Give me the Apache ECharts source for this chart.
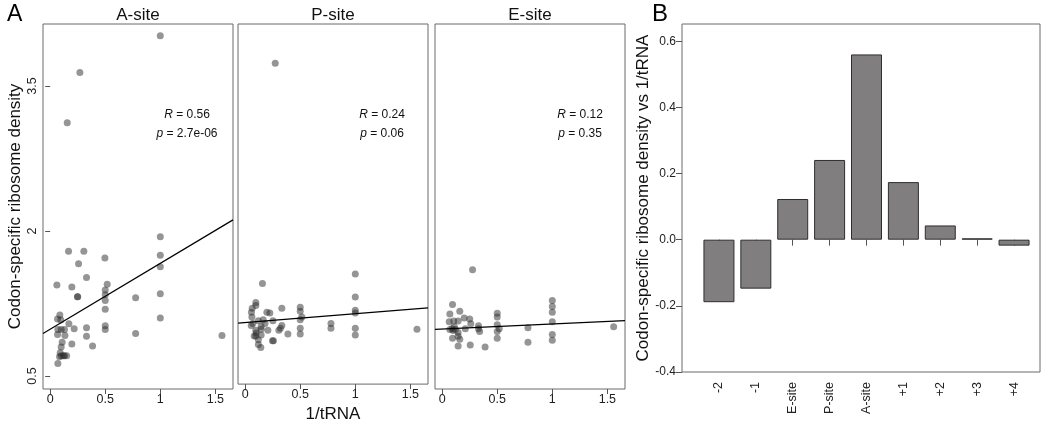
<!DOCTYPE html>
<html>
<head>
<meta charset="utf-8">
<script src="https://cdn.jsdelivr.net/npm/echarts@6/dist/echarts.min.js"></script>
<style>
html,body{margin:0;padding:0;background:#fff;}
#chart{width:1050px;height:428px;}
</style>
</head>
<body>
<div id="chart"></div>
<script>
// ---------- DATA ----------
const panelTitles = ['A-site', 'P-site', 'E-site'];
const xTicks = [0, 0.5, 1, 1.5];
const yTicks = [0.5, 2, 3.5];

const aSitePoints = [
  [1.0,4.02],[0.27,3.64],[0.155,3.12],
  [1.0,1.94],[1.0,1.75],[1.0,1.63],[1.0,1.35],[1.0,1.10],
  [0.167,1.79],[0.306,1.79],[0.497,1.72],[0.258,1.66],
  [0.33,1.52],[0.518,1.45],[0.061,1.44],[0.197,1.42],
  [0.5,1.39],[0.5,1.34],[0.776,1.31],[0.248,1.32],[0.25,1.32],
  [0.5,1.28],[0.5,1.19],[0.088,1.13],[0.067,1.09],[0.097,1.08],
  [0.17,1.04],[0.5,1.02],[0.07,0.98],[0.1,0.98],[0.13,0.98],
  [0.218,0.99],[0.33,1.0],[0.5,0.98],[0.067,0.93],[0.134,0.92],
  [0.33,0.91],[0.776,0.94],[1.56,0.92],[0.109,0.85],[0.197,0.83],
  [0.385,0.81],[0.1,0.80],[0.091,0.74],[0.1,0.71],[0.12,0.71],
  [0.13,0.71],[0.15,0.71],[0.085,0.70],[0.07,0.63]
];
const pSitePoints = [
  [0.273,3.73],[1.0,1.52],[0.157,1.42],[1.0,1.28],[0.097,1.22],[0.097,1.19],
  [0.064,1.16],[0.057,1.12],[0.333,1.16],[0.5,1.17],[0.5,1.13],[0.197,1.12],
  [0.224,1.11],[1.0,1.14],[1.0,1.11],[0.061,1.07],[0.515,1.07],[0.5,1.04],
  [0.164,1.04],[0.12,1.03],[0.252,1.03],[0.779,1.0],[0.5,0.95],[0.779,0.95],
  [1.0,0.95],[1.56,0.94],[0.333,0.98],[0.32,0.95],[0.145,0.94],[0.206,0.93],
  [0.097,0.93],[0.306,0.93],[0.082,0.87],[0.097,0.87],[0.145,0.88],[0.388,0.89],
  [0.5,0.89],[1.0,0.88],[0.12,0.83],[0.12,0.78],[0.142,0.75],[0.248,0.82],
  [0.257,0.82],[0.055,0.98],[0.07,1.0],[0.18,1.0],[0.145,0.97],[0.1,0.9]
];
const eSitePoints = [
  [0.276,1.60],[0.094,1.24],[1.0,1.28],[1.0,1.22],[1.0,1.16],[0.07,1.14],
  [0.16,1.17],[0.5,1.15],[0.5,1.11],[0.2,1.10],[0.25,1.09],[0.064,1.06],
  [1.0,1.06],[0.26,1.04],[0.105,1.07],[0.145,1.07],[0.33,1.02],[0.5,1.03],
  [0.779,1.0],[1.557,1.01],[0.518,0.99],[0.21,0.99],[0.07,0.98],[0.1,0.97],
  [0.12,0.98],[0.09,0.99],[0.34,0.96],[0.5,0.96],[0.145,0.95],[0.094,0.89],
  [0.16,0.88],[0.145,0.91],[0.5,0.89],[1.0,0.93],[1.0,0.87],[0.779,0.85],
  [0.145,0.81],[0.255,0.82],[0.39,0.80],[0.33,0.99],[0.11,1.01]
];
// regression line endpoints
const aSiteFit = [[-0.065,0.94],[1.66,2.115]];
const pSiteFit = [[-0.065,1.004],[1.66,1.165]];
const eSiteFit = [[-0.065,0.983],[1.66,1.072]];
const statLabels = [['0.56','2.7e-06'],['0.24','0.06'],['0.12','0.35']];

const barCategories = ['-2','-1','E-site','P-site','A-site','+1','+2','+3','+4'];
const barValues = [-0.189,-0.148,0.123,0.241,0.56,0.174,0.043,0.004,-0.018];
const barYTicks = [-0.4,-0.2,0,0.2,0.4,0.6];

// ---------- CHART ----------
const FONT = 'Liberation Sans, Arial, sans-serif';
const chart = echarts.init(document.getElementById('chart'), null, {renderer:'canvas'});

const scatterGrids = [
  {left:43, top:24, width:190, height:365},
  {left:238, top:24, width:190, height:365},
  {left:435, top:24, width:190, height:365}
];
const allPoints = [aSitePoints, pSitePoints, eSitePoints];
const fits = [aSiteFit, pSiteFit, eSiteFit];

const grids = scatterGrids.map(g => Object.assign({show:true, borderColor:'#6a6a6a', borderWidth:1, backgroundColor:'transparent'}, g));
// bar grid (category band area) and frame grid
grids.push({left:700.5, top:24, width:332, height:348});
grids.push({left:682, top:24, width:358, height:348, show:true, borderColor:'#6a6a6a', borderWidth:1});

const xAxes = [], yAxes = [], series = [];
for (let i = 0; i < 3; i++) {
  xAxes.push({
    type:'value', gridIndex:i, min:-0.065, max:1.66,
    axisLine:{show:false}, splitLine:{show:false},
    axisTick:{show:true, length:5, customValues:xTicks, lineStyle:{color:'#555'}},
    axisLabel:{customValues:xTicks, margin:4, fontSize:12.5, color:'#222', fontFamily:FONT},
    name: i === 1 ? '1/tRNA' : '', nameLocation:'middle', nameGap:11,
    nameTextStyle:{fontSize:17, color:'#111', fontFamily:FONT}
  });
  yAxes.push({
    type:'value', gridIndex:i, min:0.3655, max:4.141,
    axisLine:{show:false}, splitLine:{show:false},
    axisTick:{show:i === 0, length:5, customValues:yTicks, lineStyle:{color:'#555'}},
    axisLabel:{show:i === 0, customValues:yTicks, rotate:90, margin:4, fontSize:12.5, color:'#222', fontFamily:FONT},
    name: i === 0 ? 'Codon-specific ribosome density' : '', nameLocation:'middle', nameGap:19,
    nameTextStyle:{fontSize:17, color:'#111', fontFamily:FONT}
  });
  series.push({
    type:'scatter', xAxisIndex:i, yAxisIndex:i, data:allPoints[i],
    symbolSize:7, itemStyle:{color:'rgba(40,40,40,0.62)'}, silent:true
  });
  series.push({
    type:'line', xAxisIndex:i, yAxisIndex:i, data:fits[i], symbol:'none',
    lineStyle:{color:'#000', width:1.2}, silent:true, z:3
  });
}
// bar chart axes
xAxes.push({
  type:'category', gridIndex:3, data:barCategories,
  axisLine:{show:false},
  axisTick:{show:true, alignWithLabel:true, length:6, lineStyle:{color:'#555'}},
  axisLabel:{rotate:90, margin:10, fontSize:12.5, color:'#222', fontFamily:FONT, interval:0}
});
yAxes.push({
  type:'value', gridIndex:3, min:-0.4, max:0.652, offset:18.5,
  axisLine:{show:false}, splitLine:{show:false},
  axisTick:{show:true, length:6, customValues:barYTicks, lineStyle:{color:'#555'}},
  axisLabel:{customValues:barYTicks, margin:6, fontSize:12, color:'#222', fontFamily:FONT,
    formatter: v => v.toFixed(1)},
  name:'Codon-specific ribosome density vs 1/tRNA', nameLocation:'middle', nameGap:19,
  nameTextStyle:{fontSize:17, color:'#111', fontFamily:FONT}
});
// frame axes (hidden)
xAxes.push({type:'value', gridIndex:4, show:false, min:0, max:1});
yAxes.push({type:'value', gridIndex:4, show:false, min:0, max:1});

series.push({
  type:'bar', xAxisIndex:3, yAxisIndex:3, data:barValues, barCategoryGap:'16%',
  itemStyle:{color:'#807e7f', borderColor:'#2e2e2e', borderWidth:1}, silent:true
});

// texts
const graphics = [];
const titleCenters = [138, 333, 530];
panelTitles.forEach((t, i) => {
  graphics.push({type:'text', x:titleCenters[i], y:15, style:{text:t, font:'17px ' + FONT, fill:'#111', align:'center', verticalAlign:'middle'}});
});
const statCenters = [187, 382, 580];
statLabels.forEach((s, i) => {
  graphics.push({type:'text', x:statCenters[i], y:115, style:{text:'{i|R} = ' + s[0], font:'12px ' + FONT, fill:'#111', align:'center', verticalAlign:'middle', rich:{i:{fontStyle:'italic', fontSize:12, fontFamily:FONT, fill:'#111'}}}});
  graphics.push({type:'text', x:statCenters[i], y:134, style:{text:'{i|p} = ' + s[1], font:'12px ' + FONT, fill:'#111', align:'center', verticalAlign:'middle', rich:{i:{fontStyle:'italic', fontSize:12, fontFamily:FONT, fill:'#111'}}}});
});
graphics.push({type:'text', x:7, y:15, style:{text:'A', font:'23px ' + FONT, fill:'#000', align:'left', verticalAlign:'middle'}});
graphics.push({type:'text', x:652, y:14, style:{text:'B', font:'24px ' + FONT, fill:'#000', align:'left', verticalAlign:'middle'}});

chart.setOption({
  animation:false,
  backgroundColor:'#fff',
  grid:grids,
  xAxis:xAxes,
  yAxis:yAxes,
  series:series,
  graphic:graphics
});
</script>
</body>
</html>
